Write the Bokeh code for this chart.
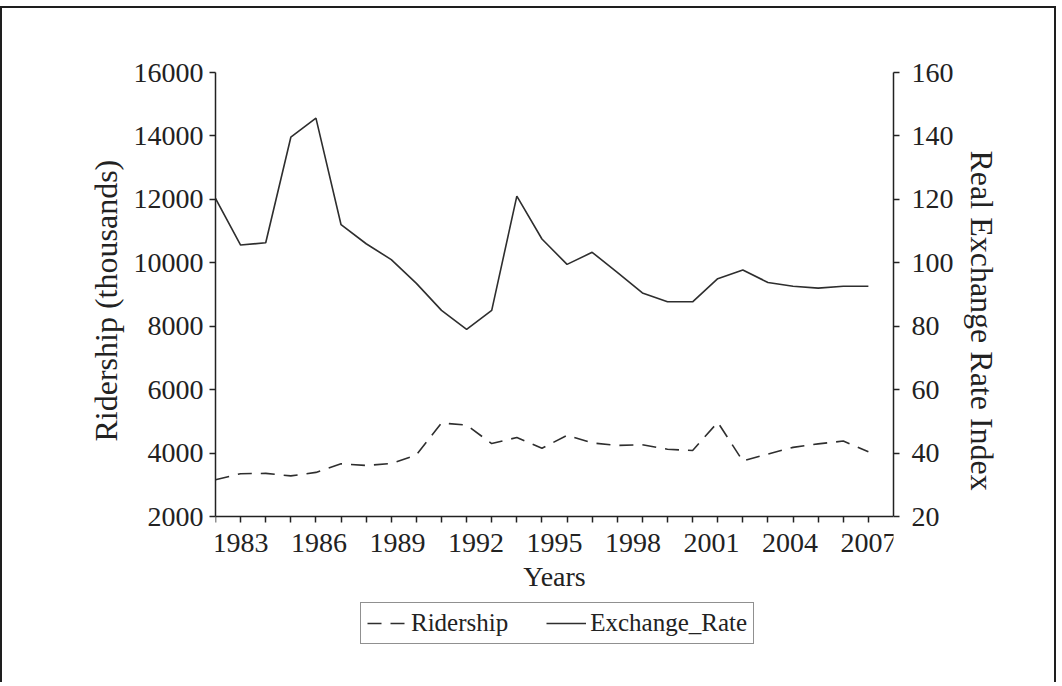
from bokeh.plotting import figure
from bokeh.models import Range1d, LinearAxis, FixedTicker, Legend, LegendItem, Title
from bokeh.embed import file_html
from bokeh.resources import INLINE

# ---- data ----
obs = list(range(27))  # one observation per x tick
ridership = [3160, 3350, 3360, 3280, 3390, 3660, 3610, 3670, 3940, 4950,
             4880, 4300, 4490, 4150, 4560, 4320, 4240, 4260, 4120, 4080,
             4970, 3750, 3970, 4180, 4290, 4380, 4040]
exchange_rate = [120.3, 105.6, 106.3, 139.6, 145.6, 112.0, 106.0, 101.0, 93.5, 85.0,
                 79.0, 85.0, 121.0, 107.5, 99.5, 103.3, 97.0, 90.5, 87.7, 87.7,
                 95.0, 97.7, 93.8, 92.6, 92.0, 92.6, 92.6]
year_labels = ["1983", "1986", "1989", "1992", "1995", "1998", "2001", "2004", "2007"]
left_ticks = [2000, 4000, 6000, 8000, 10000, 12000, 14000, 16000]
right_ticks = [20, 40, 60, 80, 100, 120, 140, 160]

FONT = "Liberation Serif"
INK = "#222222"
LINE = "#2e2e2e"

# label positions along the observation axis (evenly spread, as in the reference)
label_pos = [1 + 25 * k / 8 for k in range(len(year_labels))]

# layout (canvas pixels)
W, H = 1056, 676
F_LEFT, F_RIGHT, F_TOP = 213, 891, 64
DATA_BOTTOM = 508          # where 2000 / 20 sit
F_BOTTOM = 672             # frame extends lower to host the x axis and legend
extra = F_BOTTOM - DATA_BOTTOM
data_h = DATA_BOTTOM - F_TOP
l_lo, l_hi = left_ticks[0], left_ticks[-1]
r_lo, r_hi = right_ticks[0], right_ticks[-1]
l_start = l_lo - extra * (l_hi - l_lo) / data_h
r_start = r_lo - extra * (r_hi - r_lo) / data_h

p = figure(width=W, height=H, output_backend="svg", toolbar_location=None,
           x_range=Range1d(0, 27), y_range=Range1d(l_start, l_hi),
           min_border_left=F_LEFT, min_border_right=W - F_RIGHT,
           min_border_top=F_TOP, min_border_bottom=H - F_BOTTOM)
p.styles = {"border": "2px solid #1e1e1e", "border-bottom": "none", "margin-top": "6px"}
p.outline_line_color = None
p.grid.visible = False
p.background_fill_color = "white"
p.border_fill_color = "white"
p.extra_y_ranges = {"rate": Range1d(r_start, r_hi)}

# x axis (drawn at the 2000 level inside the frame)
xa = p.xaxis[0]
xa.fixed_location = l_lo
xa.ticker = FixedTicker(ticks=label_pos, minor_ticks=obs)
xa.major_label_overrides = {pos: lab for pos, lab in zip(label_pos, year_labels)}
xa.axis_label = "Years"
xa.major_tick_line_color = None
xa.major_tick_out = 6
xa.major_tick_in = 0
xa.minor_tick_out = 6
xa.minor_tick_in = 0
xa.minor_tick_line_color = INK
xa.minor_tick_line_width = 1.5
xa.major_label_standoff = 11
xa.axis_label_standoff = 6
xa.axis_label_text_font_size = "28px"

# left axis
ya = p.yaxis[0]
ya.ticker = FixedTicker(ticks=left_ticks)
ya.bounds = (l_lo, l_hi)
ya.major_label_standoff = 6
ya.major_label_orientation = "horizontal"

# right axis
ra = LinearAxis(y_range_name="rate", ticker=FixedTicker(ticks=right_ticks),
                bounds=(r_lo, r_hi))
ra.major_label_standoff = 12
p.add_layout(ra, "right")

for ax in [xa, ya, ra]:
    ax.axis_line_color = INK
    ax.axis_line_width = 1.5
    ax.major_label_text_font = FONT
    ax.major_label_text_font_size = "28px"
    ax.major_label_text_color = INK
    ax.axis_label_text_font = FONT
    ax.axis_label_text_font_style = "normal"
    ax.axis_label_text_color = INK
for ax in [ya, ra]:
    ax.major_tick_out = 6
    ax.major_tick_in = 0
    ax.major_tick_line_color = INK
    ax.major_tick_line_width = 1.5
    ax.minor_tick_line_color = None

# axis titles as side-panel titles, anchored to match the reference placement
left_title = Title(text="Ridership (thousands)", align="left",
                   offset=F_BOTTOM - 433, standoff=14,
                   text_font=FONT, text_font_size="32px", text_font_style="normal",
                   text_color=INK)
p.add_layout(left_title, "left")
right_title = Title(text="Real Exchange Rate Index", align="left",
                    offset=142 - F_TOP, standoff=14,
                    text_font=FONT, text_font_size="32px", text_font_style="normal",
                    text_color=INK)
p.add_layout(right_title, "right")

r1 = p.line(obs, ridership, line_color=LINE, line_width=1.6, line_dash="14 9")
r2 = p.line(obs, exchange_rate, y_range_name="rate", line_color=LINE, line_width=1.6)

legend = Legend(items=[LegendItem(label="Ridership", renderers=[r1]),
                       LegendItem(label="Exchange_Rate", renderers=[r2])],
                orientation="horizontal", location=(145, 36),
                label_text_font=FONT, label_text_font_size="25px", label_text_color=INK,
                glyph_width=40, glyph_height=20, label_standoff=4,
                spacing=38, padding=6, margin=0,
                border_line_color=INK, border_line_width=1.5,
                background_fill_color="white", background_fill_alpha=1.0)
p.add_layout(legend)

open("out.html", "w").write(file_html(p, INLINE))
